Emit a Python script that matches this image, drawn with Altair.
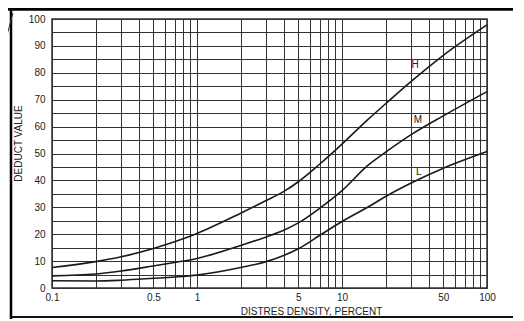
import altair as alt
import pandas as pd

# ---- data ----
density = [0.1, 0.2, 0.3, 0.5, 0.7, 1, 2, 3, 4, 5, 7, 10, 15, 20, 30, 50, 100]
curve_h = [7.6, 9.8, 11.6, 14.7, 17.2, 20.3, 27.8, 32.5, 36.0, 39.5, 46.0, 53.5, 62.5, 68.5, 76.8, 86.5, 97.8]
curve_m = [4.5, 5.2, 6.3, 8.2, 9.5, 11.0, 15.8, 19.0, 21.6, 24.2, 29.6, 36.2, 45.5, 50.5, 57.0, 64.0, 73.0]
curve_l = [2.7, 2.6, 2.9, 3.6, 4.1, 4.8, 7.6, 9.8, 12.2, 14.6, 19.5, 24.7, 30.0, 34.0, 39.0, 44.5, 50.7]

label_names = ["H", "M", "L"]
label_x = [31.9, 33.4, 33.9]
label_y = [83.0, 62.5, 43.1]

x_grid = [0.1, 0.2, 0.3, 0.4, 0.5, 0.6, 0.7, 0.8, 0.9,
          1, 2, 3, 4, 5, 6, 7, 8, 9,
          10, 20, 30, 40, 50, 60, 70, 80, 90, 100]
x_labels = [0.1, 0.5, 1, 5, 10, 50, 100]
y_grid = list(range(0, 101, 5))

rows = []
for name, vals in zip(label_names, [curve_h, curve_m, curve_l]):
    for d, v in zip(density, vals):
        rows.append({"density": d, "value": v, "curve": name})
df = pd.DataFrame(rows)
lab_df = pd.DataFrame({"density": label_x, "value": label_y, "t": label_names})

FONT = "Liberation Sans"

x_scale = alt.Scale(type="log", domain=[0.1, 100], nice=False)
y_scale = alt.Scale(domain=[0, 100], nice=False)

x_label_expr = "(" + " || ".join("abs(datum.value - %s) < 1e-9" % v for v in x_labels) + ") ? datum.label : ''"

x_axis = alt.Axis(values=x_grid, format="~g", labelExpr=x_label_expr, ticks=False, domain=False,
                  grid=True, gridColor="#333", gridWidth=1, labelOverlap=False, labelFlush=False,
                  labelPadding=4, labelFontSize=10, labelColor="#222", labelFont=FONT,
                  title="DISTRES DENSITY, PERCENT", titleFont=FONT, titleFontSize=10,
                  titleFontWeight="normal", titleColor="#222", titleX=259, titleY=23,
                  titleBaseline="middle")
y_axis = alt.Axis(values=y_grid, labelExpr="datum.value % 10 === 0 ? datum.label : ''",
                  ticks=False, domain=False, grid=True, gridColor="#333", gridWidth=1,
                  labelOverlap=False, labelFlush=False, labelPadding=7, labelFontSize=10,
                  labelColor="#222", labelFont=FONT,
                  title="DEDUCT VALUE", titleFont=FONT, titleFontSize=10, titleFontWeight="normal",
                  titleColor="#222", titleX=-34, titleY=124, titleBaseline="middle", titleAngle=-90)

X = alt.X("density:Q", scale=x_scale, axis=x_axis)
Y = alt.Y("value:Q", scale=y_scale, axis=y_axis)

lines = alt.Chart(df).mark_line(interpolate="monotone", color="#1a1a1a", strokeWidth=1.6).encode(
    x=X, y=Y, detail="curve:N",
)

labels = alt.Chart(lab_df).mark_text(font=FONT, fontSize=10, color="#222").encode(
    x=X, y=Y, text="t:N",
)

one = alt.Data(values=[{"a": 1}])
top_bar = alt.Chart(one).mark_rule(color="#000", strokeWidth=3.5).encode(
    x=alt.value(-44), x2=alt.value(461), y=alt.value(-10), y2=alt.value(-10))
left_bar = alt.Chart(one).mark_rule(color="#000", strokeWidth=2.5).encode(
    x=alt.value(-41), x2=alt.value(-41), y=alt.value(-11), y2=alt.value(300))
bottom_bar = alt.Chart(one).mark_rule(color="#111", strokeWidth=2).encode(
    x=alt.value(-42), x2=alt.value(469), y=alt.value(298), y2=alt.value(298))
slash = alt.Chart(one).mark_rule(color="#333", strokeWidth=1).encode(
    x=alt.value(-45), x2=alt.value(-39), y=alt.value(16), y2=alt.value(-6))

chart = alt.layer(lines, labels, top_bar, left_bar, bottom_bar, slash).properties(
    width=435, height=269,
    autosize=alt.AutoSizeParams(type="none"),
    padding={"left": 44, "top": 11, "right": 26, "bottom": 31},
    background="white",
).configure_view(stroke="#333", strokeWidth=1.5)

chart.save("out.html", embed_options={"renderer": "svg", "actions": False})
